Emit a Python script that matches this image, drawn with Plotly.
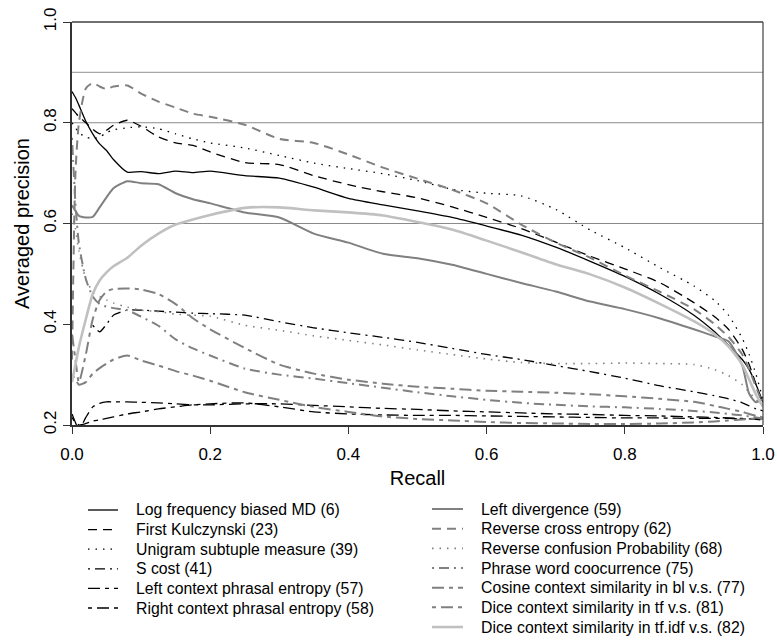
import plotly.graph_objects as go

# Recall levels shared by every curve
recall = [0.0, 0.005, 0.01, 0.02, 0.03, 0.04, 0.05, 0.06, 0.08, 0.10, 0.125, 0.15, 0.175,
          0.20, 0.25, 0.30, 0.35, 0.40, 0.45, 0.50, 0.55, 0.60, 0.65, 0.70, 0.75, 0.80,
          0.85, 0.90, 0.93, 0.95, 0.97, 0.98, 0.99, 1.00]

# Averaged precision for each measure
log_freq_md = [0.862, 0.850, 0.835, 0.803, 0.778, 0.758, 0.745, 0.727, 0.702, 0.703, 0.699, 0.704,
               0.701, 0.704, 0.695, 0.690, 0.672, 0.650, 0.637, 0.625, 0.612, 0.595, 0.577, 0.553,
               0.525, 0.495, 0.460, 0.418, 0.385, 0.358, 0.330, 0.310, 0.280, 0.245]
first_kulczynski = [0.828, 0.820, 0.812, 0.800, 0.787, 0.778, 0.785, 0.795, 0.805, 0.793, 0.772, 0.760,
                    0.755, 0.742, 0.721, 0.717, 0.695, 0.677, 0.663, 0.651, 0.633, 0.612, 0.590, 0.563,
                    0.535, 0.510, 0.483, 0.443, 0.415, 0.390, 0.350, 0.320, 0.280, 0.240]
unigram_subtuple = [0.800, 0.790, 0.780, 0.772, 0.768, 0.772, 0.780, 0.786, 0.790, 0.792, 0.788, 0.778,
                    0.768, 0.760, 0.750, 0.735, 0.720, 0.709, 0.699, 0.685, 0.668, 0.660, 0.655, 0.628,
                    0.587, 0.552, 0.513, 0.476, 0.447, 0.418, 0.372, 0.340, 0.300, 0.250]
s_cost = [None, None, None, None, 0.398, 0.385, 0.400, 0.418, 0.428, 0.428, 0.426, 0.424,
          0.422, 0.421, 0.418, 0.405, 0.393, 0.383, 0.374, 0.364, 0.352, 0.340, 0.330, 0.318,
          0.306, 0.293, 0.278, 0.266, 0.258, 0.252, 0.244, 0.238, 0.232, 0.228]
left_ctx_entropy = [0.222, 0.205, 0.190, 0.215, 0.236, 0.243, 0.246, 0.246, 0.246, 0.245, 0.244, 0.242,
                    0.240, 0.240, 0.242, 0.242, 0.239, 0.236, 0.233, 0.231, 0.228, 0.226, 0.224, 0.222,
                    0.221, 0.219, 0.218, 0.216, 0.215, 0.214, 0.213, 0.212, 0.211, 0.210]
right_ctx_entropy = [0.215, 0.205, 0.200, 0.203, 0.208, 0.210, 0.213, 0.216, 0.222, 0.226, 0.232, 0.236,
                     0.240, 0.242, 0.244, 0.236, 0.226, 0.222, 0.220, 0.219, 0.219, 0.218, 0.217, 0.216,
                     0.215, 0.214, 0.214, 0.213, 0.213, 0.213, 0.212, 0.212, 0.212, 0.212]
left_divergence = [0.636, 0.625, 0.615, 0.612, 0.613, 0.632, 0.652, 0.670, 0.684, 0.680, 0.678, 0.660,
                   0.648, 0.640, 0.622, 0.612, 0.580, 0.562, 0.540, 0.531, 0.518, 0.500, 0.482, 0.465,
                   0.445, 0.430, 0.412, 0.390, 0.376, 0.366, 0.318, 0.262, 0.245, 0.252]
reverse_cross_entropy = [0.330, 0.700, 0.800, 0.868, 0.879, 0.872, 0.867, 0.872, 0.874, 0.858, 0.842, 0.830,
                         0.818, 0.812, 0.796, 0.768, 0.760, 0.737, 0.711, 0.689, 0.667, 0.640, 0.598, 0.562,
                         0.532, 0.497, 0.465, 0.430, 0.400, 0.375, 0.340, 0.310, 0.275, 0.240]
reverse_confusion = [0.620, 0.590, 0.545, 0.490, 0.465, 0.455, 0.448, 0.442, 0.434, 0.428, 0.425, 0.420,
                     0.418, 0.416, 0.398, 0.388, 0.377, 0.368, 0.359, 0.349, 0.340, 0.331, 0.324, 0.322,
                     0.322, 0.323, 0.322, 0.320, 0.310, 0.298, 0.280, 0.265, 0.250, 0.240]
phrase_word_cooc = [0.770, 0.640, 0.560, 0.490, 0.455, 0.440, 0.435, 0.432, 0.428, 0.415, 0.397, 0.370,
                    0.352, 0.338, 0.312, 0.300, 0.292, 0.283, 0.274, 0.265, 0.257, 0.250, 0.244, 0.240,
                    0.237, 0.235, 0.232, 0.228, 0.225, 0.222, 0.219, 0.217, 0.215, 0.213]
cosine_ctx_bl = [0.380, 0.330, 0.285, 0.340, 0.410, 0.448, 0.465, 0.470, 0.471, 0.469, 0.460, 0.440,
                 0.412, 0.390, 0.353, 0.320, 0.302, 0.290, 0.282, 0.276, 0.272, 0.268, 0.266, 0.264,
                 0.261, 0.257, 0.252, 0.246, 0.238, 0.232, 0.226, 0.222, 0.218, 0.215]
dice_ctx_tf = [0.300, 0.290, 0.280, 0.285, 0.302, 0.313, 0.322, 0.330, 0.338, 0.328, 0.318, 0.307,
               0.298, 0.288, 0.265, 0.250, 0.236, 0.226, 0.217, 0.212, 0.209, 0.206, 0.204, 0.203,
               0.202, 0.202, 0.203, 0.205, 0.207, 0.209, 0.211, 0.212, 0.213, 0.213]
dice_ctx_tfidf = [0.285, 0.320, 0.355, 0.410, 0.460, 0.487, 0.503, 0.515, 0.532, 0.556, 0.580, 0.598,
                  0.608, 0.617, 0.631, 0.632, 0.626, 0.622, 0.616, 0.603, 0.588, 0.566, 0.543, 0.519,
                  0.499, 0.473, 0.441, 0.406, 0.380, 0.356, 0.320, 0.290, 0.260, 0.236]

BLACK = "#000000"
GRAY = "#808080"
LIGHT = "#c0c0c0"

DOT = "1.5px,6px"
DASH = "9px,6px"
DASHDOT = "2px,5px,10px,5px"
LONG_SHORT = "12px,5px,4px,5px"
SHORT_LONG = "4px,5px,12px,5px"

# (name, values, color, width, dash, key column)
series = [
    ("Log frequency biased MD (6)", log_freq_md, BLACK, 1.3, "solid", 0),
    ("First Kulczynski (23)", first_kulczynski, BLACK, 1.3, DASH, 0),
    ("Unigram subtuple measure (39)", unigram_subtuple, BLACK, 1.3, DOT, 0),
    ("S cost (41)", s_cost, BLACK, 1.3, DASHDOT, 0),
    ("Left context phrasal entropy (57)", left_ctx_entropy, BLACK, 1.3, LONG_SHORT, 0),
    ("Right context phrasal entropy (58)", right_ctx_entropy, BLACK, 1.3, SHORT_LONG, 0),
    ("Left divergence (59)", left_divergence, GRAY, 2, "solid", 1),
    ("Reverse cross entropy (62)", reverse_cross_entropy, GRAY, 2, DASH, 1),
    ("Reverse confusion Probability (68)", reverse_confusion, GRAY, 1.6, DOT, 1),
    ("Phrase word coocurrence (75)", phrase_word_cooc, GRAY, 2, DASHDOT, 1),
    ("Cosine context similarity in bl v.s. (77)", cosine_ctx_bl, GRAY, 2, LONG_SHORT, 1),
    ("Dice context similarity in tf v.s. (81)", dice_ctx_tf, GRAY, 2, SHORT_LONG, 1),
    ("Dice context similarity in tf.idf v.s. (82)", dice_ctx_tfidf, LIGHT, 2.6, "solid", 1),
]

FONT = "Arial, Liberation Sans, sans-serif"
W, H = 777, 641
ML, MR, MT, MB = 72, 14, 22, 216
PW, PH = W - ML - MR, H - MT - MB


def px_to_paper_x(px):
    return (px - ML) / PW


def px_to_paper_y(py):
    return (H - MB - py) / PH


fig = go.Figure()
for name, vals, color, width, dash, col in series:
    fig.add_trace(go.Scatter(
        x=recall, y=vals, name=name, mode="lines", showlegend=False,
        line=dict(color=color, width=width, dash=dash, shape="spline", smoothing=0.6),
        connectgaps=False,
    ))

# horizontal reference lines and the upper/right frame
shapes = [
    dict(type="line", xref="paper", x0=0, x1=1, yref="y", y0=0.6, y1=0.6,
         line=dict(color="#8a8a8a", width=1.2), layer="below"),
    dict(type="line", xref="paper", x0=0, x1=1, yref="y", y0=0.8, y1=0.8,
         line=dict(color="#8a8a8a", width=1.2), layer="below"),
    dict(type="line", xref="paper", x0=0, x1=1, yref="y", y0=0.9, y1=0.9,
         line=dict(color="#a8a8a8", width=1.2), layer="below"),
    dict(type="line", xref="paper", x0=0, x1=1, yref="paper", y0=1, y1=1,
         line=dict(color="#404040", width=1.5)),
    dict(type="line", xref="paper", x0=1, x1=1, yref="paper", y0=0, y1=1,
         line=dict(color="#404040", width=1.2)),
]

# two-column key below the chart
annotations = []
columns = [
    dict(line_x0=88, line_x1=118, text_x=134, top=510, step=19.6),
    dict(line_x0=432, line_x1=463, text_x=479, top=509, step=19.67),
]
row_in_col = [0, 0]
for name, vals, color, width, dash, col in series:
    c = columns[col]
    py = c["top"] + row_in_col[col] * c["step"]
    row_in_col[col] += 1
    yp = px_to_paper_y(py)
    shapes.append(dict(
        type="line", xref="paper", yref="paper",
        x0=px_to_paper_x(c["line_x0"]), x1=px_to_paper_x(c["line_x1"]), y0=yp, y1=yp,
        line=dict(color=color, width=width, dash=dash),
    ))
    annotations.append(dict(
        xref="paper", yref="paper", x=px_to_paper_x(c["text_x"]), y=yp,
        xanchor="left", yanchor="middle", showarrow=False, text=name,
        font=dict(size=15.8, family=FONT, color="black"),
    ))

fig.update_layout(
    width=W, height=H,
    margin=dict(l=ML, r=MR, t=MT, b=MB, autoexpand=False),
    paper_bgcolor="white", plot_bgcolor="white",
    font=dict(family=FONT, color="black"),
    shapes=shapes, annotations=annotations, showlegend=False,
    xaxis=dict(
        range=[0, 1], tickvals=[0, 0.2, 0.4, 0.6, 0.8, 1.0], tickformat=".1f",
        showgrid=False, zeroline=False, showline=True, linecolor="#333", linewidth=2,
        ticks="outside", ticklen=7, tickwidth=1.2, tickcolor="#333",
        ticklabelstandoff=6,
        tickfont=dict(size=17, family=FONT),
        title=dict(text="Recall", font=dict(size=20, family=FONT), standoff=8),
    ),
    yaxis=dict(
        range=[0.2, 1.0], tickvals=[0.2, 0.4, 0.6, 0.8, 1.0], tickformat=".1f",
        showgrid=False, zeroline=False, showline=True, linecolor="#333", linewidth=2,
        ticks="outside", ticklen=7, tickwidth=1.2, tickcolor="#333", tickangle=-90,
        tickfont=dict(size=17, family=FONT),
        title=dict(text="Averaged precision", font=dict(size=20, family=FONT), standoff=6),
    ),
)

fig.write_html("out.html")
